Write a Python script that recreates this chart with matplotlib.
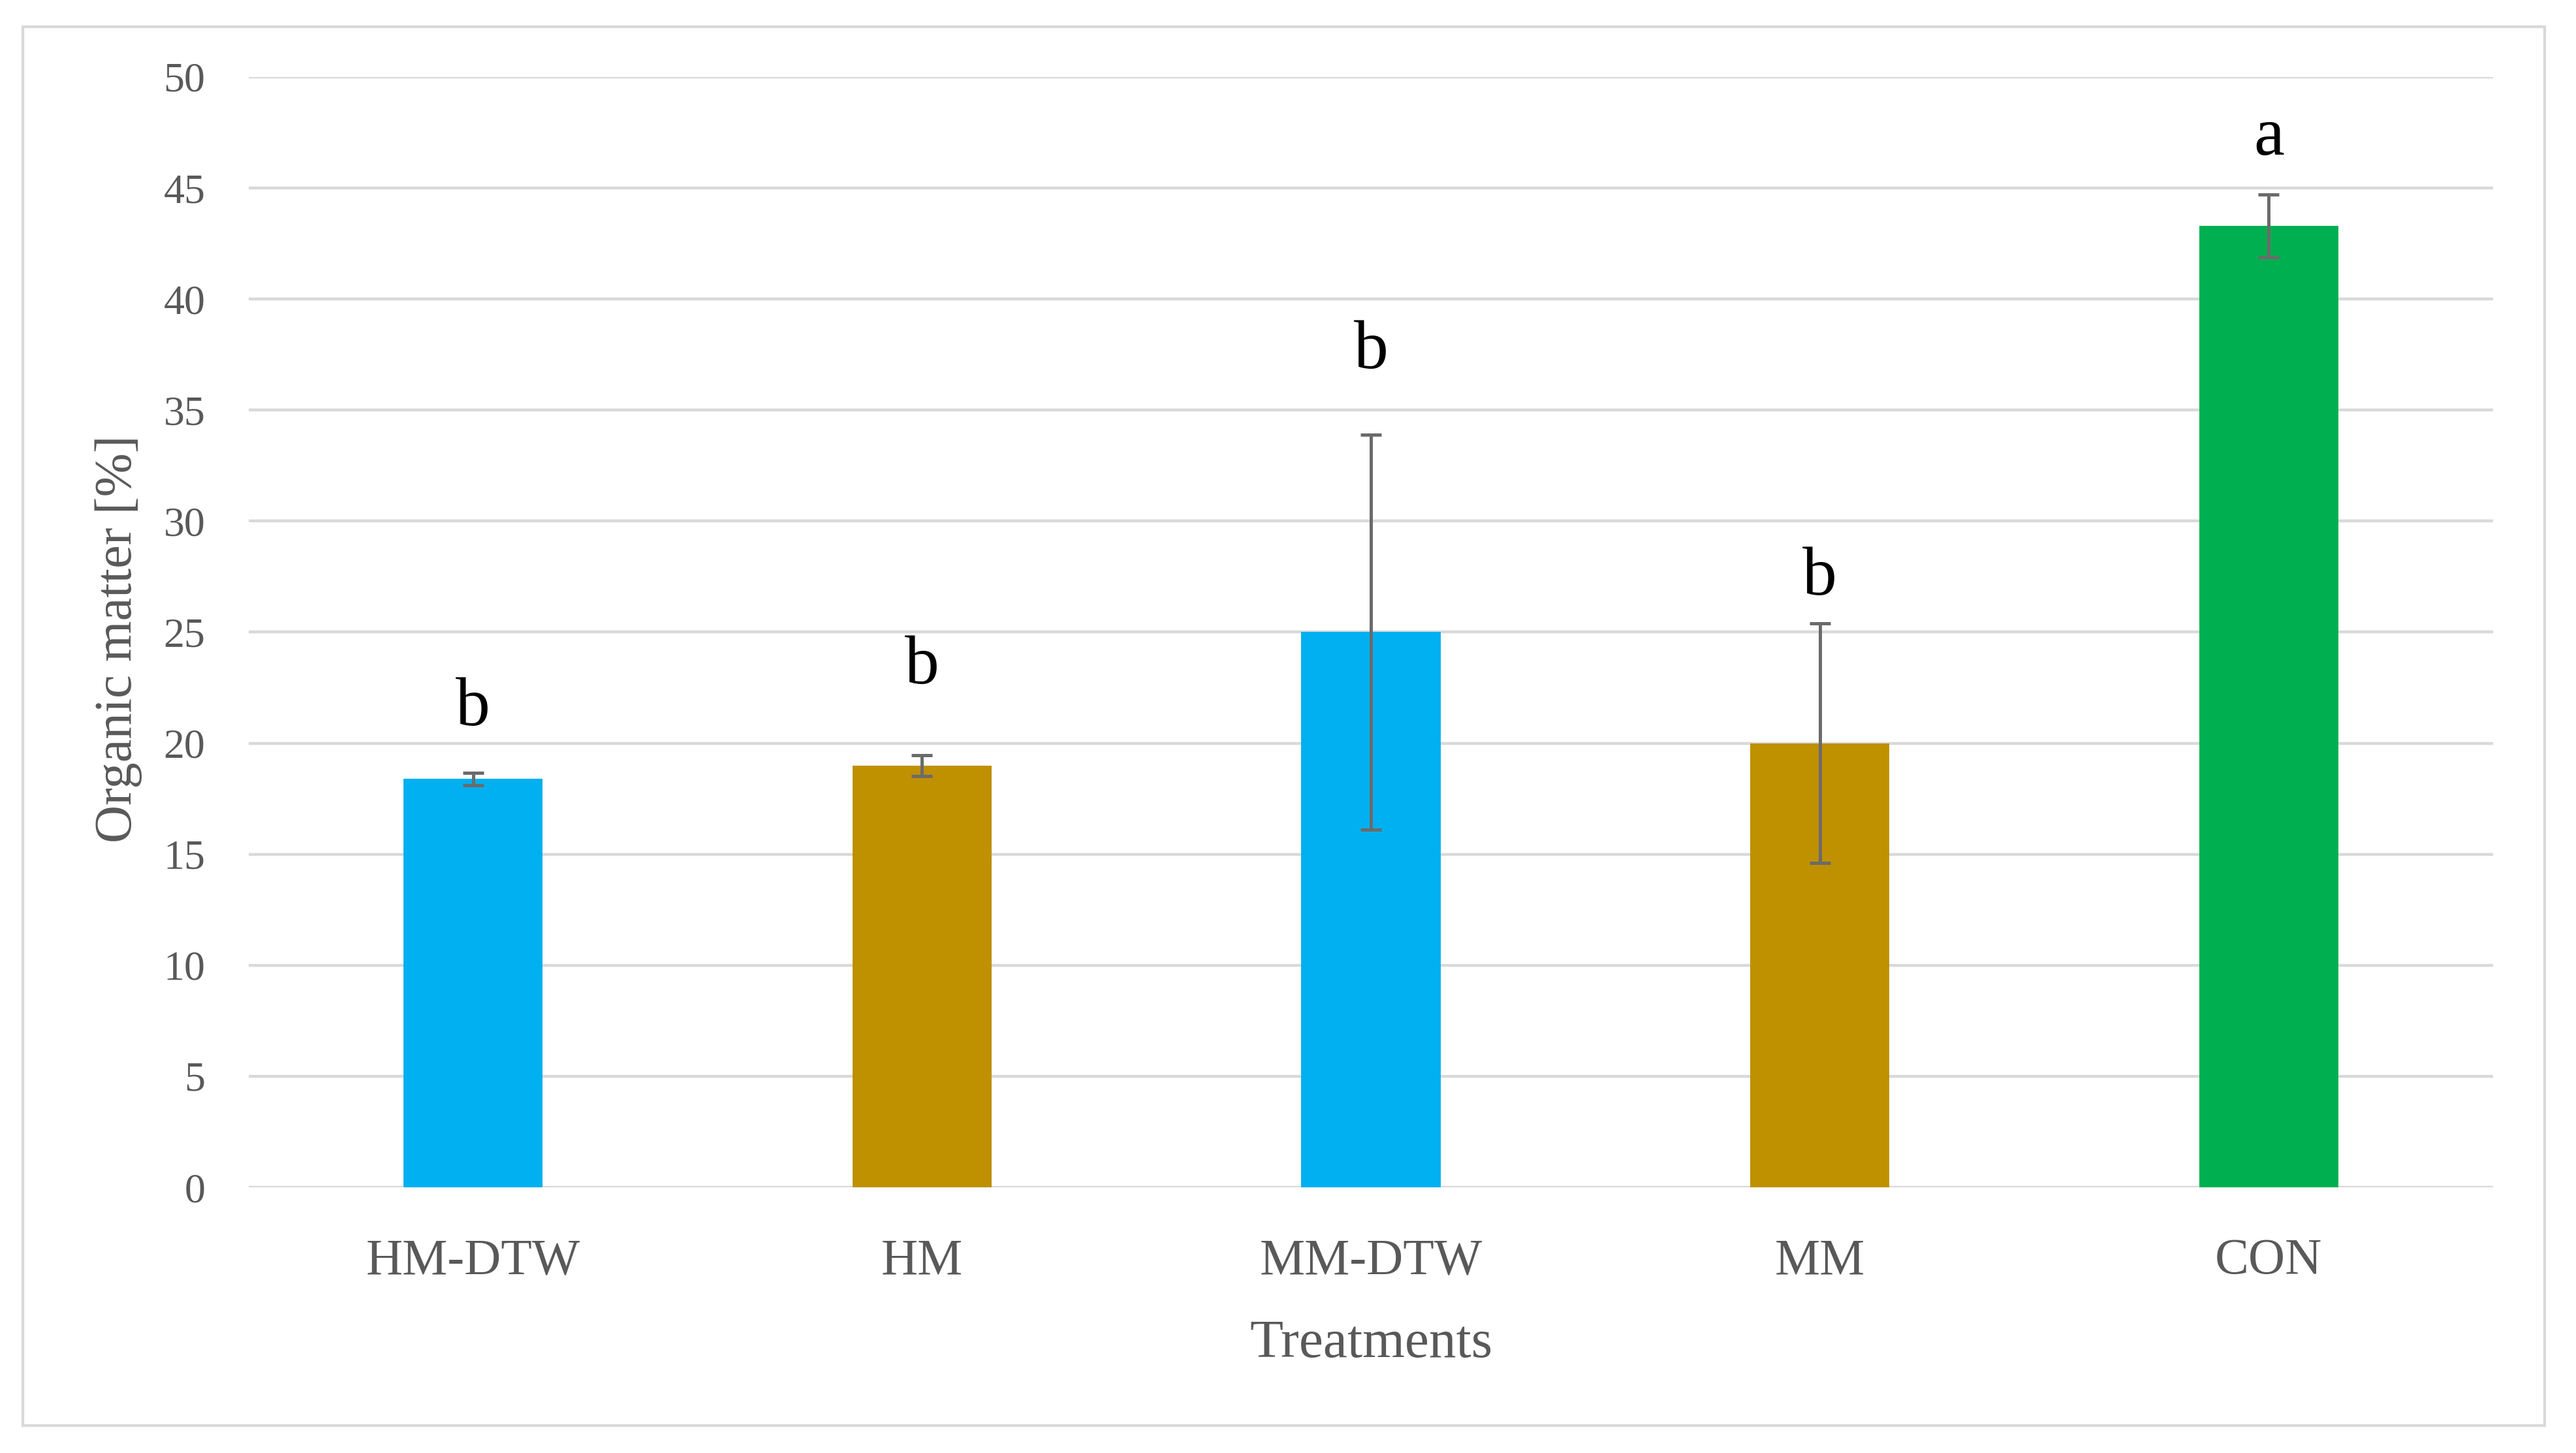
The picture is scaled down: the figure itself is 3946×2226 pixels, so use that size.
import matplotlib
matplotlib.use("Agg")
import matplotlib.pyplot as plt
from matplotlib.patches import Rectangle

# data
treatments = ["HM-DTW", "HM", "MM-DTW", "MM", "CON"]
organic_matter = [18.4, 19.0, 25.0, 20.0, 43.3]
errors = [0.28, 0.47, 8.9, 5.4, 1.4]
letters = ["b", "b", "b", "b", "a"]
letter_y = [20.8, 22.7, 36.9, 26.7, 46.5]
bar_colors = ["#00B0F0", "#BF9000", "#00B0F0", "#BF9000", "#00B050"]
yticks = [0, 5, 10, 15, 20, 25, 30, 35, 40, 45, 50]

plt.rcParams['font.family'] = ['Liberation Serif', 'DejaVu Serif']

W, H = 3946, 2226
fig = plt.figure(figsize=(W / 200, H / 200), dpi=200)
ax = fig.add_axes([381 / W, 1 - 1819 / H, (3819 - 381) / W, (1819 - 118) / H])

x = list(range(len(treatments)))
ax.bar(x, organic_matter, width=0.31, color=bar_colors, zorder=3)
ax.errorbar(x, organic_matter, yerr=errors, fmt='none', ecolor='#6b6b6b',
            elinewidth=1.8, capsize=5.6, capthick=1.8, zorder=4)

for xi, lab, ly in zip(x, letters, letter_y):
    ax.text(xi, ly, lab, ha='center', va='baseline', fontsize=38, color='black', zorder=5)

ax.set_xlim(-0.5, len(treatments) - 0.5)
ax.set_ylim(0, 50)
ax.set_yticks(yticks)
ax.yaxis.grid(True, color='#d9d9d9', linewidth=1.6, zorder=0)
ax.set_axisbelow(True)
for s in ax.spines.values():
    s.set_visible(False)

ax.set_xticks(x)
ax.set_xticklabels(treatments)
ax.tick_params(axis='x', length=0, pad=28, labelsize=28, labelcolor='#595959')
ax.tick_params(axis='y', length=0, pad=24, labelsize=23, labelcolor='#595959')

ax.set_xlabel("Treatments", fontsize=30, color='#595959', va='center')
ax.xaxis.set_label_coords(0.5, (1819 - 2059) / 1701)
ax.set_ylabel("Organic matter [%]", fontsize=29, color='#595959', va='center')
ax.yaxis.set_label_coords((182 - 381) / 3438, (1819 - 979) / 1701)

# outer chart border
fig.patches.append(Rectangle((35 / W, 1 - 2184 / H), (3898 - 35) / W, (2184 - 41) / H,
                             transform=fig.transFigure, fill=False,
                             edgecolor='#d9d9d9', linewidth=1.5))

fig.savefig("out.png", dpi=200, facecolor='white')
